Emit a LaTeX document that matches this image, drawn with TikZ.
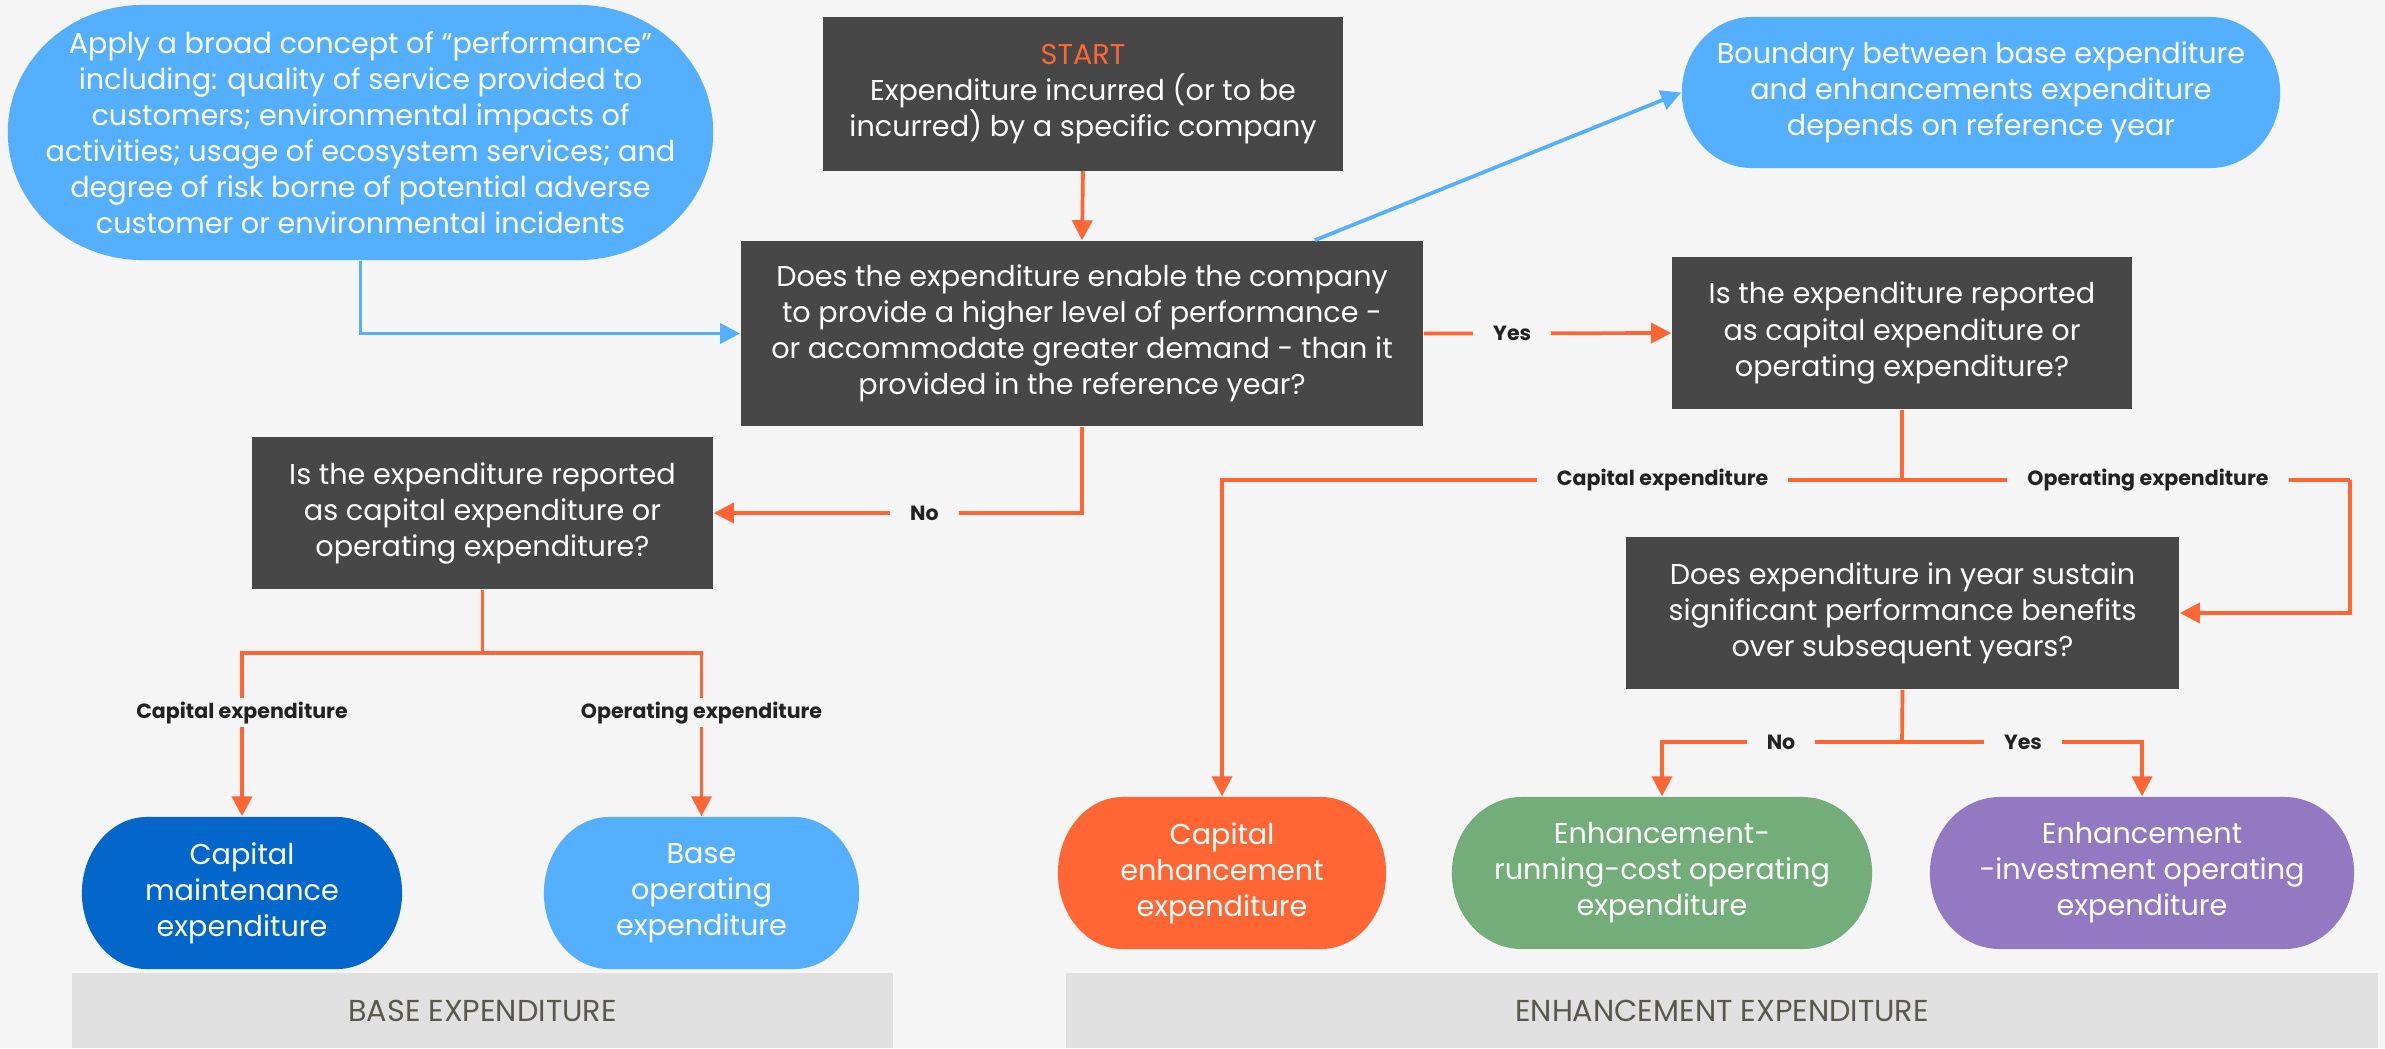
\documentclass[tikz,border=0pt]{standalone}
\usepackage{fontspec}
\setmainfont{Poppins}
\usetikzlibrary{arrows.meta,calc}

\definecolor{pagebg}{HTML}{F5F5F5}
\definecolor{boxgrey}{HTML}{474747}
\definecolor{flowor}{HTML}{FF6633}
\definecolor{skyblue}{HTML}{55AFFF}
\definecolor{deepblue}{HTML}{0366CB}
\definecolor{sage}{HTML}{73AD79}
\definecolor{lilac}{HTML}{9378C2}
\definecolor{bandgrey}{HTML}{E0E0E0}
\definecolor{bandtext}{HTML}{58594B}
\definecolor{lbltext}{HTML}{222222}

\newcommand{\boxtextfont}{\fontsize{8.15}{10.25}\selectfont}

\tikzset{
  qbox/.style={fill=boxgrey, text=white, align=center, inner sep=0pt, font=\boxtextfont},
  pill/.style 2 args={fill=pagebg, text=white, align=center, inner sep=0pt, font=\boxtextfont,
    path picture={\fill[#2] let \p1=(path picture bounding box.north west),
      \p2=(path picture bounding box.south east), \n1={(\y1-\y2)/2} in
      (\x1+#1,\y1) -- (\x2-#1,\y1) arc[start angle=90, end angle=-90, x radius=#1, y radius=\n1]
      -- (\x1+#1,\y2) arc[start angle=270, end angle=90, x radius=#1, y radius=\n1] -- cycle;}},
  outcome/.style={minimum height=1.52cm},
  lbl/.style={fill=pagebg, text=lbltext, inner xsep=0.2cm, inner ysep=1pt,
    font=\fontsize{5.85}{6.9}\selectfont\bfseries},
  bandlbl/.style={text=bandtext, font=\fontsize{8.6}{10.3}\selectfont},
  oline/.style={draw=flowor, line width=0.037cm},
  flow/.style={oline, -{Triangle[length=0.2cm, width=0.2cm]}},
  bflow/.style={draw=skyblue, line width=0.037cm, -{Triangle[length=0.2cm, width=0.2cm]}}
}

\begin{document}
\begin{tikzpicture}[x=0.01cm, y=-0.01cm]

    % Page
    \fill[pagebg] (0,0) rectangle (2385,1048);
    \useasboundingbox (0,0) rectangle (2385,1048);

    % Bands
    \fill[bandgrey] (72,973) rectangle (893,1048) node[midway, bandlbl] (basetag) {BASE EXPENDITURE};
    \fill[bandgrey] (1066,973) rectangle (2378,1048) node[midway, bandlbl] (enhtag) {ENHANCEMENT EXPENDITURE};

    % Top row
    \node[pill={1.35cm}{skyblue}, minimum width=7.05cm, minimum height=2.55cm] (perf) at (360.5,132.5)
        {Apply a broad concept of “performance”\\ including: quality of service provided to\\ customers; environmental impacts of\\ activities; usage of ecosystem services; and\\ degree of risk borne of potential adverse\\ customer or environmental incidents};
    \node[qbox, minimum width=5.2cm, minimum height=1.53cm] (start) at (1083,94)
        {{\color{flowor}START}\\ Expenditure incurred (or to be\\ incurred) by a specific company};
    \node[pill={0.7cm}{skyblue}, minimum width=5.98cm, minimum height=1.51cm] (bound) at (1981,92.5)
        {Boundary between base expenditure\\ and enhancements expenditure\\ depends on reference year};

    % Questions
    \node[qbox, minimum width=6.82cm, minimum height=1.85cm] (q1) at (1082,333.5)
        {Does the expenditure enable the company\\ to provide a higher level of performance -\\ or accommodate greater demand - than it\\ provided in the reference year?};
    \node[qbox, minimum width=4.6cm, minimum height=1.52cm] (q2) at (1902,333)
        {Is the expenditure reported\\ as capital expenditure or\\ operating expenditure?};
    \node[qbox, minimum width=4.61cm, minimum height=1.52cm] (q3) at (482.5,513)
        {Is the expenditure reported\\ as capital expenditure or\\ operating expenditure?};
    \node[qbox, minimum width=5.53cm, minimum height=1.52cm] (q4) at (1902.5,613)
        {Does expenditure in year sustain\\ significant performance benefits\\ over subsequent years?};

    % Outcomes
    \node[pill={0.65cm}{deepblue}, outcome, minimum width=3.2cm] (capm) at (242,893)
        {Capital\\ maintenance\\ expenditure};
    \node[pill={0.65cm}{skyblue}, outcome, minimum width=3.15cm] (baseop) at (701.5,893)
        {Base\\ operating\\ expenditure};
    \node[pill={0.65cm}{flowor}, outcome, minimum width=3.28cm] (capenh) at (1222,873)
        {Capital\\ enhancement\\ expenditure};
    \node[pill={0.7cm}{sage}, outcome, minimum width=4.2cm] (enhrun) at (1662,873)
        {Enhancement-\\ running-cost operating\\ expenditure};
    \node[pill={0.7cm}{lilac}, outcome, minimum width=4.24cm] (enhinv) at (2142,873)
        {Enhancement\\ -investment operating\\ expenditure};

    % Junctions
    \coordinate (j3) at (482.5,653);
    \coordinate (j2) at (1902,480);
    \coordinate (q2r) at (2350,480);
    \coordinate (j4) at (1902,742);

    % Blue connectors
    \draw[bflow] (perf.south) |- (q1.west);
    \draw[bflow] ([xshift=-1.09cm]q1.north east) -- (bound.west);

    % Main flow
    \draw[flow] (start.south) -- (q1.north);
    \draw[flow] (q1.east) -- node[lbl, pos=0.357] (yes1) {Yes} (q2.west);
    \draw[flow] (q1.south) |- node[lbl, pos=0.714] (no1) {No} (q3.east);

    % Base branch
    \draw[oline] (q3.south) -- (j3);
    \draw[flow] (j3) -| node[lbl, pos=0.683] (capl) {Capital expenditure} (capm.north);
    \draw[flow] (j3) -| node[lbl, pos=0.683] (opl) {Operating expenditure} (baseop.north);

    % Enhancement branch
    \draw[oline] (q2.south) -- (j2);
    \draw[flow] (j2) -| node[lbl, pos=0.176] (capr) {Capital expenditure} (capenh.north);
    \draw[oline] (j2) -- node[lbl, pos=0.549] (opr) {Operating expenditure} (q2r);
    \draw[flow] (q2r) |- (q4.east);
    \draw[oline] (q4.south) -- (j4);
    \draw[flow] (j4) -| node[lbl, pos=0.252] (no2) {No} (enhrun.north);
    \draw[flow] (j4) -| node[lbl, pos=0.252] (yes2) {Yes} (enhinv.north);

\end{tikzpicture}
\end{document}
